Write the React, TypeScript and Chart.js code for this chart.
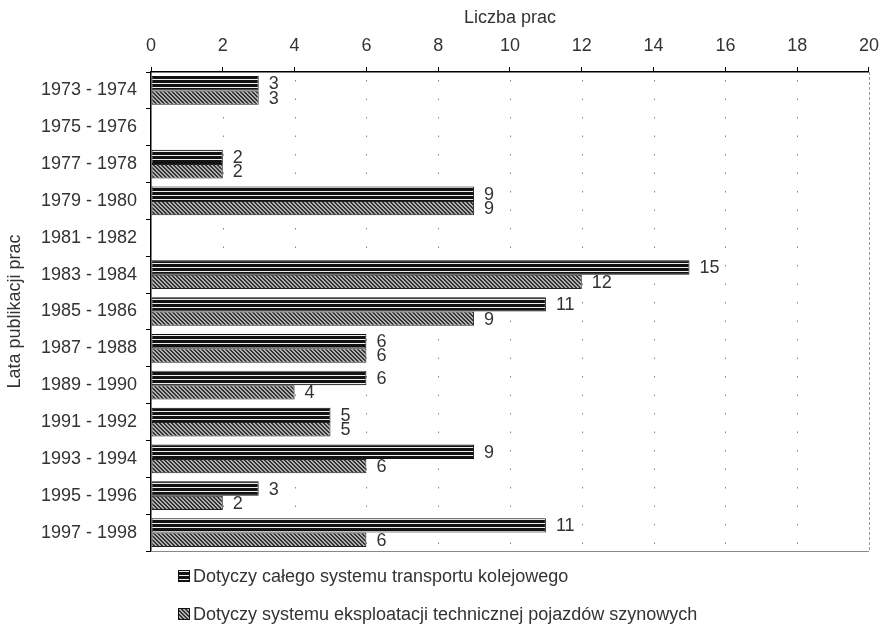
import React, { useEffect, useRef } from "react";
import { Chart, registerables } from "chart.js";

Chart.register(...registerables);

const categories = [
  "1973 - 1974", "1975 - 1976", "1977 - 1978", "1979 - 1980", "1981 - 1982",
  "1983 - 1984", "1985 - 1986", "1987 - 1988", "1989 - 1990", "1991 - 1992",
  "1993 - 1994", "1995 - 1996", "1997 - 1998",
];
const seriesNames = [
  "Dotyczy całego systemu transportu kolejowego",
  "Dotyczy systemu eksploatacji technicznej pojazdów szynowych",
];
const wholeSystem = [3, 0, 2, 9, 0, 15, 11, 6, 6, 5, 9, 3, 11];
const technical = [3, 0, 2, 9, 0, 12, 9, 6, 4, 5, 6, 2, 6];
const xMin = 0;
const xMax = 20;
const xStep = 2;
const xTitle = "Liczba prac";
const yTitle = "Lata publikacji prac";

const FONT = "'Liberation Sans', Arial, sans-serif";
const FS = 18;
const TEXT = "#333";

function makeStripePattern(): CanvasPattern | string {
  const c = document.createElement("canvas");
  c.width = 8; c.height = 4;
  const g = c.getContext("2d");
  if (!g) return "#111";
  g.fillStyle = "#121212";
  g.fillRect(0, 0, 8, 4);
  g.fillStyle = "#eeeeee";
  g.fillRect(0, 3, 8, 1);
  return g.createPattern(c, "repeat") || "#111";
}

function makeHatchPattern(): CanvasPattern | string {
  const c = document.createElement("canvas");
  c.width = 4; c.height = 4;
  const g = c.getContext("2d");
  if (!g) return "#777";
  for (let y = 0; y < 4; y++) {
    for (let x = 0; x < 4; x++) {
      const d = (((x - y) % 4) + 4) % 4;
      g.fillStyle = d === 0 || d === 1 ? "#333" : "#b0b0b0";
      g.fillRect(x, y, 1, 1);
    }
  }
  return g.createPattern(c, "repeat") || "#777";
}

export default function App() {
  const ref = useRef<HTMLCanvasElement | null>(null);

  useEffect(() => {
    if (!ref.current) return;
    const stripe = makeStripePattern();
    const hatch = makeHatchPattern();
    const fills = [stripe, hatch];

    const gridPlugin = {
      id: "dottedGrid",
      beforeDatasetsDraw(chart: any) {
        const { ctx, chartArea: a, scales } = chart;
        const xs = scales.x;
        ctx.save();
        ctx.strokeStyle = "#888";
        ctx.lineWidth = 1;
        ctx.setLineDash([1.5, 17]);
        for (let v = xMin + xStep; v < xMax; v += xStep) {
          const px = Math.round(xs.getPixelForValue(v)) + 0.5;
          ctx.beginPath();
          ctx.moveTo(px, a.top + 8);
          ctx.lineTo(px, a.bottom);
          ctx.stroke();
        }
        ctx.setLineDash([3, 2]);
        ctx.strokeStyle = "#999";
        ctx.beginPath();
        ctx.moveTo(Math.round(a.right) + 0.5, a.top);
        ctx.lineTo(Math.round(a.right) + 0.5, a.bottom);
        ctx.stroke();
        ctx.setLineDash([]);
        ctx.strokeStyle = "#888";
        ctx.beginPath();
        ctx.moveTo(a.left, Math.round(a.bottom) + 0.5);
        ctx.lineTo(a.right, Math.round(a.bottom) + 0.5);
        ctx.stroke();
        ctx.restore();
      },
    };

    const labelPlugin = {
      id: "valueLabels",
      afterDatasetsDraw(chart: any) {
        const { ctx } = chart;
        ctx.save();
        ctx.font = `${FS}px ${FONT}`;
        ctx.fillStyle = TEXT;
        ctx.textBaseline = "middle";
        ctx.textAlign = "left";
        chart.data.datasets.forEach((ds: any, di: number) => {
          const meta = chart.getDatasetMeta(di);
          meta.data.forEach((el: any, i: number) => {
            const v = ds.data[i];
            if (!v) return;
            ctx.fillText(String(v), el.x + 10, el.y + 1);
          });
        });
        ctx.restore();
      },
    };

    const legendPlugin = {
      id: "customLegend",
      afterDraw(chart: any) {
        const { ctx, chartArea: a } = chart;
        ctx.save();
        ctx.font = `${FS}px ${FONT}`;
        ctx.textBaseline = "middle";
        ctx.textAlign = "left";
        seriesNames.forEach((name, i) => {
          const x = a.left + 27;
          const y = a.bottom + 25 + i * 38;
          ctx.fillStyle = fills[i];
          ctx.fillRect(x, y - 6, 12, 12);
          ctx.strokeStyle = "#111";
          ctx.lineWidth = 1;
          ctx.strokeRect(x + 0.5, y - 5.5, 11, 11);
          ctx.fillStyle = TEXT;
          ctx.fillText(name, x + 15, y + 1);
        });
        ctx.restore();
      },
    };

    const chart = new Chart(ref.current, {
      type: "bar",
      data: {
        labels: categories,
        datasets: [
          {
            label: seriesNames[0],
            data: wholeSystem,
            backgroundColor: stripe as any,
            borderColor: "#111",
            borderWidth: 1,
            borderSkipped: false,
          },
          {
            label: seriesNames[1],
            data: technical,
            backgroundColor: hatch as any,
            borderColor: "#222",
            borderWidth: 1,
            borderSkipped: false,
          },
        ],
      },
      options: {
        indexAxis: "y",
        animation: false,
        responsive: true,
        maintainAspectRatio: false,
        layout: { padding: { left: 0, top: 0, right: 17, bottom: 90 } },
        datasets: { bar: { barPercentage: 1, categoryPercentage: 0.78 } },
        plugins: { legend: { display: false }, tooltip: { enabled: false } },
        scales: {
          x: {
            position: "top",
            min: xMin,
            max: xMax,
            ticks: {
              stepSize: xStep,
              color: TEXT,
              font: { family: FONT, size: FS },
              padding: 10,
            },
            grid: { drawOnChartArea: false, drawTicks: true, tickLength: 5, color: "#000" },
            border: { display: true, color: "#000", width: 1.5 },
            title: {
              display: true,
              text: xTitle,
              color: TEXT,
              font: { family: FONT, size: FS },
              padding: { top: 7, bottom: 0 },
            },
            afterFit: (s: any) => { s.height = 72; },
          },
          y: {
            ticks: {
              color: TEXT,
              font: { family: FONT, size: FS },
              padding: 9,
            },
            grid: { drawOnChartArea: false, drawTicks: true, tickLength: 5, color: "#000", offset: true },
            border: { display: true, color: "#000", width: 1.5 },
            title: {
              display: true,
              text: yTitle,
              color: TEXT,
              font: { family: FONT, size: FS },
              padding: { top: 4, bottom: 0 },
            },
            afterFit: (s: any) => { s.width = 151; },
          },
        },
      },
      plugins: [gridPlugin, labelPlugin, legendPlugin],
    });
    return () => chart.destroy();
  }, []);

  return (
    <div style={{ position: "fixed", left: 0, top: 0, width: 889, height: 641, background: "#fff" }}>
      <canvas ref={ref} />
    </div>
  );
}
